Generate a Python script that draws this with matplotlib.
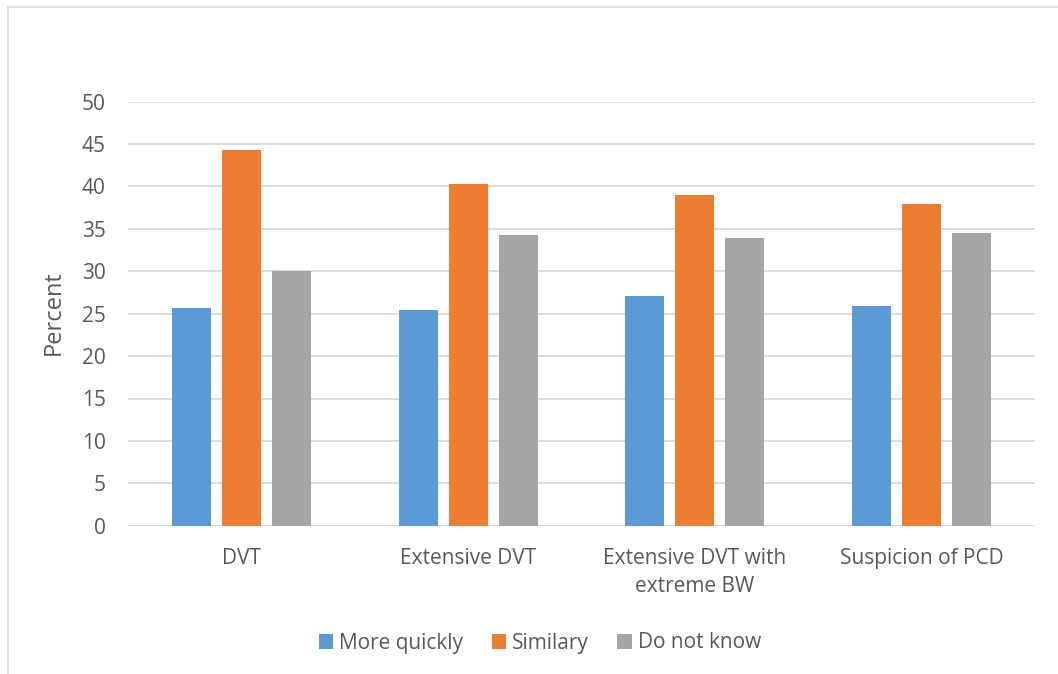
import matplotlib
matplotlib.use("Agg")
import matplotlib.pyplot as plt
from matplotlib.patches import Rectangle
import numpy as np

categories = ["DVT", "Extensive DVT", "Extensive DVT with\nextreme BW", "Suspicion of PCD"]
series_names = ["More quickly", "Similary", "Do not know"]
more_quickly = [25.7, 25.4, 27.1, 25.9]
similary = [44.3, 40.3, 39.0, 37.9]
do_not_know = [30.0, 34.3, 33.9, 34.5]
y_ticks = [0, 5, 10, 15, 20, 25, 30, 35, 40, 45, 50]

colors = ["#5B9BD5", "#ED7D31", "#A5A5A5"]
text_color = "#595959"
grid_color = "#D9D9D9"

plt.rcParams["font.family"] = ["Open Sans", "DejaVu Sans"]

W, H = 1058, 674
fig = plt.figure(figsize=(W / 100, H / 100), dpi=100)
fig.patch.set_facecolor("white")

# chart-area border (top and left edges visible)
fig.patches.append(Rectangle((7.5 / W, -0.05), 1.2, (H - 6.5) / H + 0.05,
                             transform=fig.transFigure, fill=False,
                             edgecolor=grid_color, linewidth=1.2, zorder=0))

ax = fig.add_axes([128 / W, (H - 525.7) / H, (1035 - 128) / W, (525.7 - 101.7) / H])

x = np.arange(len(categories))
bar_w = 0.173
step = 0.2205
for i, (vals, c) in enumerate(zip([more_quickly, similary, do_not_know], colors)):
    ax.bar(x + (i - 1) * step, vals, width=bar_w, color=c, zorder=3,
           label=series_names[i])

ax.set_xlim(-0.5, len(categories) - 0.5)
ax.set_ylim(0, 50)
ax.set_yticks(y_ticks)
ax.set_xticks(x)
ax.set_xticklabels(categories, linespacing=1.45)
ax.tick_params(axis="both", length=0, colors=text_color, labelsize=15)
ax.tick_params(axis="y", pad=16)
ax.tick_params(axis="x", pad=16)
ax.yaxis.grid(True, color=grid_color, linewidth=1.3, zorder=0)
for s in ax.spines.values():
    s.set_visible(False)
ax.axhline(0, color=grid_color, linewidth=1.3, zorder=2)

ax.set_ylabel("Percent", color=text_color, fontsize=17)
ax.yaxis.set_label_coords((66 - 128) / (1035 - 128), (525.7 - 313) / (525.7 - 101.7))

handles = [Rectangle((0, 0), 1, 1, facecolor=c, edgecolor="none") for c in colors]
fig.legend(handles, series_names, loc="center", bbox_to_anchor=(540 / W, (H - 643) / H),
           ncol=3, frameon=False, fontsize=15, labelcolor=text_color,
           handlelength=0.7, handleheight=0.7, handletextpad=0.3, columnspacing=1.35)

fig.savefig("out.png", dpi=100, facecolor="white")
